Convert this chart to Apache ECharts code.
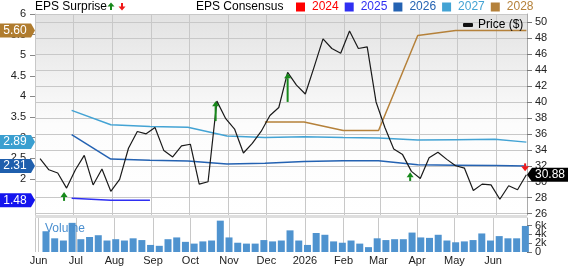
<!DOCTYPE html>
<html>
<head>
<meta charset="utf-8">
<title>EPS Surprise / Consensus</title>
<script src="https://cdn.jsdelivr.net/npm/echarts@6/dist/echarts.min.js"></script>
<style>
html, body { margin: 0; padding: 0; background: #fff; }
#main { width: 568px; height: 266px; }
</style>
</head>
<body>
<div id="main"></div>
<script>
var FONT = '"Liberation Sans", Arial, sans-serif';
var MONTHS = ['Jan','Feb','Mar','Apr','May','Jun','Jul','Aug','Sep','Oct','Nov','Dec'];

// weekly closing price, first week 2025-06-05
var priceStart = '2025-06-05';
var price = [32.9, 31.5, 31.1, 29.2, 31.5, 33.3, 29.6, 31.6, 28.8, 30.3,
             34.2, 36.3, 36.0, 36.8, 33.9, 33.1, 34.5, 34.7, 29.7, 30.0,
             40.1, 37.9, 36.6, 33.6, 34.8, 36.3, 38.3, 39.3, 43.7, 42.1,
             41.0, 44.4, 47.9, 46.7, 46.1, 48.9, 46.7, 46.9, 40.0, 36.8,
             34.1, 33.4, 31.3, 30.4, 33.0, 33.7, 32.8, 32.0, 31.7, 28.9,
             29.7, 29.6, 27.8, 29.5, 29.0, 30.88];

// weekly volume (thousands)
var volumeStart = '2025-06-07';
var volume = [4.7, 3.1, 2.6, 6.6, 2.9, 3.4, 3.8, 2.6, 2.9, 2.6,
              3.1, 2.7, 1.6, 1.4, 2.9, 3.3, 2.3, 1.9, 2.4, 2.6,
              7.1, 3.3, 2.1, 1.9, 1.9, 2.7, 2.4, 2.6, 4.9, 2.6,
              1.6, 4.3, 3.9, 2.4, 2.1, 2.6, 1.9, 1.1, 3.1, 2.7,
              2.9, 2.9, 4.4, 3.3, 3.2, 3.9, 2.6, 2.2, 2.4, 2.7,
              4.2, 2.6, 3.6, 3.1, 3.1, 5.9];
var volumeTicks = [0, 2, 4, 6];
var volumeTickLabels = ['0', '2k', '4k', '6k'];

// EPS consensus per fiscal year, month-end samples
var consensusDates = ['2025-06-30','2025-07-31','2025-08-31','2025-09-30','2025-10-31','2025-11-30',
                      '2025-12-31','2026-01-31','2026-02-28','2026-03-31','2026-04-30','2026-05-31','2026-06-25'];
var eps2024 = [];
var eps2025 = [1.53, 1.48, 1.48];
var eps2026 = [3.07, 2.48, 2.45, 2.43, 2.36, 2.38, 2.42, 2.44, 2.44, 2.34, 2.33, 2.32, 2.31];
var eps2027 = [3.66, 3.31, 3.27, 3.25, 3.04, 3.00, 3.02, 3.00, 2.99, 2.94, 2.95, 2.96, 2.89];
var eps2028 = [null, null, null, null, null, 3.38, 3.38, 3.17, 3.17, 5.48, 5.60, 5.60, 5.60];

// EPS surprise arrows (price scale): tip and tail
var surpriseDates = ['2025-06-24','2025-10-22','2025-12-18','2026-03-25','2026-06-24'];
var surpriseTip  = [28.7, 40.1, 43.6, 31.2, 31.3];
var surpriseTail = [27.6, 37.6, 40.0, 30.1, 32.3];

function parseDay(s) {
    var p = s.split('-');
    return new Date(+p[0], +p[1] - 1, +p[2]);
}
function weekly(start, values) {
    var d0 = parseDay(start);
    return values.map(function (v, i) {
        return [new Date(d0.getFullYear(), d0.getMonth(), d0.getDate() + 7 * i).getTime(), v];
    });
}
function pairs(dates, values) {
    var out = [];
    for (var i = 0; i < values.length; i++) {
        if (values[i] != null) out.push([parseDay(dates[i]).getTime(), values[i]]);
    }
    return out;
}

var xMin = new Date(2025, 5, 1).getTime();
var xMax = new Date(2026, 5, 25, 12).getTime();
var DAY = 86400000;

var colors = { '2024': '#ff0000', '2025': '#2f2ff2', '2026': '#2462b2', '2027': '#43a3d4', '2028': '#b5813a' };
var gridColor = '#c8c8c8';

function xAxisCfg(gridIndex, showLabels) {
    return {
        type: 'time', gridIndex: gridIndex, min: xMin, max: xMax,
        minInterval: 28 * DAY, maxInterval: 31 * DAY,
        axisLine: { show: false }, axisTick: { show: false },
        splitLine: { show: true, lineStyle: { color: gridColor, width: 1 } },
        axisLabel: {
            show: showLabels, color: '#222', fontSize: 11, fontFamily: FONT, margin: 3,
            showMaxLabel: false,
            formatter: function (v) {
                var d = new Date(v);
                if (d.getDate() !== 1 || d.getHours() !== 0) return '';
                return d.getMonth() === 0 ? String(d.getFullYear()) : MONTHS[d.getMonth()];
            }
        }
    };
}

function consensusSeries(name, values) {
    return {
        name: name, type: 'line', xAxisIndex: 0, yAxisIndex: 0,
        data: pairs(consensusDates, values), symbol: 'none', z: 3,
        itemStyle: { color: colors[name] },
        lineStyle: { color: colors[name], width: 1.5 }
    };
}

var chart = echarts.init(document.getElementById('main'));

var option = {
    animation: false,
    textStyle: { fontFamily: FONT },
    grid: [
        { left: 35, right: 41, top: 14, height: 201, show: true, borderWidth: 0,
          backgroundColor: new echarts.graphic.LinearGradient(0, 0, 0, 1, [
              { offset: 0, color: '#e2e2e2' },
              { offset: 0.55, color: '#fcfcfc' },
              { offset: 1, color: '#ffffff' }]) },
        { left: 35, right: 41, top: 218, height: 36, show: true, borderWidth: 0, backgroundColor: '#fff' }
    ],
    legend: [
        { left: 296, top: 1, padding: 0, icon: 'rect', itemWidth: 9, itemHeight: 9, itemGap: 6,
          textStyle: { fontSize: 12, fontFamily: FONT, padding: [0, 0, 0, 2] },
          data: ['2024', '2025', '2026', '2027', '2028'].map(function (n) {
              return { name: n, textStyle: { color: colors[n] } };
          }) },
        { left: 463, top: 19, padding: 0, icon: 'roundRect', itemWidth: 10, itemHeight: 4,
          textStyle: { fontSize: 12, fontFamily: FONT, color: '#000' },
          data: ['Price ($)'] }
    ],
    xAxis: [xAxisCfg(0, false), xAxisCfg(1, true)],
    yAxis: [
        { type: 'value', gridIndex: 0, position: 'left', min: 1.121, max: 6,
          splitNumber: 10, minInterval: 0.5, maxInterval: 0.5,
          axisLine: { show: true, lineStyle: { color: gridColor } },
          axisTick: { show: true, length: 5, lineStyle: { color: '#888' } },
          axisLabel: { color: '#222', fontSize: 11, fontFamily: FONT, margin: 9, showMinLabel: false, hideOverlap: false },
          splitLine: { show: false } },
        { type: 'value', gridIndex: 0, position: 'right', min: 25.83, max: 51.02,
          splitNumber: 12, minInterval: 2, maxInterval: 2,
          axisLine: { show: true, lineStyle: { color: '#aaa' } },
          axisTick: { show: true, length: 5, lineStyle: { color: '#777' } },
          axisLabel: { color: '#222', fontSize: 11, fontFamily: FONT, margin: 8, showMinLabel: false, showMaxLabel: false, hideOverlap: false },
          splitLine: { show: true, lineStyle: { color: gridColor } } },
        { type: 'value', gridIndex: 1, position: 'right', min: 0, max: 7.7,
          axisLine: { show: true, lineStyle: { color: '#aaa' } },
          axisTick: { show: true, length: 5, lineStyle: { color: '#777' }, customValues: volumeTicks },
          axisLabel: { show: false },
          splitLine: { show: false } }
    ],
    series: [
        consensusSeries('2024', eps2024),
        consensusSeries('2025', eps2025),
        consensusSeries('2026', eps2026),
        consensusSeries('2027', eps2027),
        consensusSeries('2028', eps2028),
        { name: 'Price ($)', type: 'line', xAxisIndex: 0, yAxisIndex: 1, z: 4,
          data: weekly(priceStart, price), symbol: 'none',
          itemStyle: { color: '#111' }, lineStyle: { color: '#1a1a1a', width: 1.2 } },
        { name: 'Volume', type: 'bar', xAxisIndex: 1, yAxisIndex: 2,
          data: weekly(volumeStart, volume), barWidth: 7,
          itemStyle: { color: '#4f93cf' } },
        { name: 'EPS Surprise', type: 'custom', xAxisIndex: 0, yAxisIndex: 1, z: 6,
          data: surpriseDates.map(function (d, i) {
              return [parseDay(d).getTime(), surpriseTip[i], surpriseTail[i]];
          }),
          encode: { x: 0, y: [1, 2] },
          renderItem: function (params, api) {
              var tip = api.coord([api.value(0), api.value(1)]);
              var tail = api.coord([api.value(0), api.value(2)]);
              var dir = tail[1] > tip[1] ? 1 : -1;
              var color = dir > 0 ? '#17891b' : '#f01818';
              var hh = 5, hw = dir > 0 ? 3.5 : 4;
              return { type: 'group', children: [
                  { type: 'line', shape: { x1: tip[0], y1: tip[1] + dir * hh, x2: tail[0], y2: tail[1] },
                    style: { stroke: color, lineWidth: 2 } },
                  { type: 'polygon', shape: { points: [[tip[0], tip[1]], [tip[0] - hw, tip[1] + dir * hh], [tip[0] + hw, tip[1] + dir * hh]] },
                    style: { fill: color } }
              ] };
          } }
    ]
};
chart.setOption(option);

// header, pane divider, volume tick labels and value tags on the axes
function leftTag(value, color) {
    var y = chart.convertToPixel({ yAxisIndex: 0 }, value);
    return { type: 'group', children: [
        { type: 'polygon', z: 100, shape: { points: [[0, y - 7], [31, y - 7], [35, y], [31, y + 7], [0, y + 7]] }, style: { fill: color } },
        { type: 'text', z: 101, x: 15, y: y, style: { text: value.toFixed(2), fill: '#fff', font: '12px ' + FONT, align: 'center', verticalAlign: 'middle' } }
    ] };
}
function rightTag(value) {
    var y = chart.convertToPixel({ yAxisIndex: 1 }, value);
    return { type: 'group', children: [
        { type: 'polygon', z: 100, shape: { points: [[527, y], [532, y - 7], [568, y - 7], [568, y + 7], [532, y + 7]] }, style: { fill: '#000' } },
        { type: 'text', z: 101, x: 550, y: y, style: { text: value.toFixed(2), fill: '#fff', font: '12px ' + FONT, align: 'center', verticalAlign: 'middle' } }
    ] };
}
var last = function (a) { return a[a.length - 1]; };

var graphics = [
    { type: 'text', x: 35, y: 6.5, style: { text: 'EPS Surprise', fill: '#000', font: '12px ' + FONT, verticalAlign: 'middle' } },
    { type: 'polygon', shape: { points: [[111, 2.5], [107.5, 6.5], [114.5, 6.5]] }, style: { fill: '#17891b' } },
    { type: 'rect', shape: { x: 110, y: 6, width: 2, height: 4 }, style: { fill: '#17891b' } },
    { type: 'rect', shape: { x: 121, y: 3, width: 2, height: 4 }, style: { fill: '#f01818' } },
    { type: 'polygon', shape: { points: [[122, 10.5], [118.5, 6.5], [125.5, 6.5]] }, style: { fill: '#f01818' } },
    { type: 'text', x: 196, y: 6.5, style: { text: 'EPS Consensus', fill: '#000', font: '12px ' + FONT, verticalAlign: 'middle' } },
    { type: 'rect', shape: { x: 35, y: 215, width: 492, height: 3 }, style: { fill: '#dedede' } },
    { type: 'text', x: 45, y: 229, z: 40, style: { text: 'Volume', fill: '#4a8fd0', font: '12px ' + FONT, verticalAlign: 'middle' } }
];
volumeTicks.forEach(function (v, i) {
    graphics.push({ type: 'text', x: 535, y: chart.convertToPixel({ yAxisIndex: 2 }, v),
        style: { text: volumeTickLabels[i], fill: '#222', font: '11px ' + FONT, verticalAlign: 'middle' } });
});
graphics.push(
    leftTag(last(eps2028), '#b07c2e'),
    leftTag(last(eps2027), '#3a9fd0'),
    leftTag(last(eps2026), '#1f5fad'),
    leftTag(last(eps2025), '#1414ee'),
    rightTag(last(price))
);
chart.setOption({ graphic: graphics });
</script>
</body>
</html>
